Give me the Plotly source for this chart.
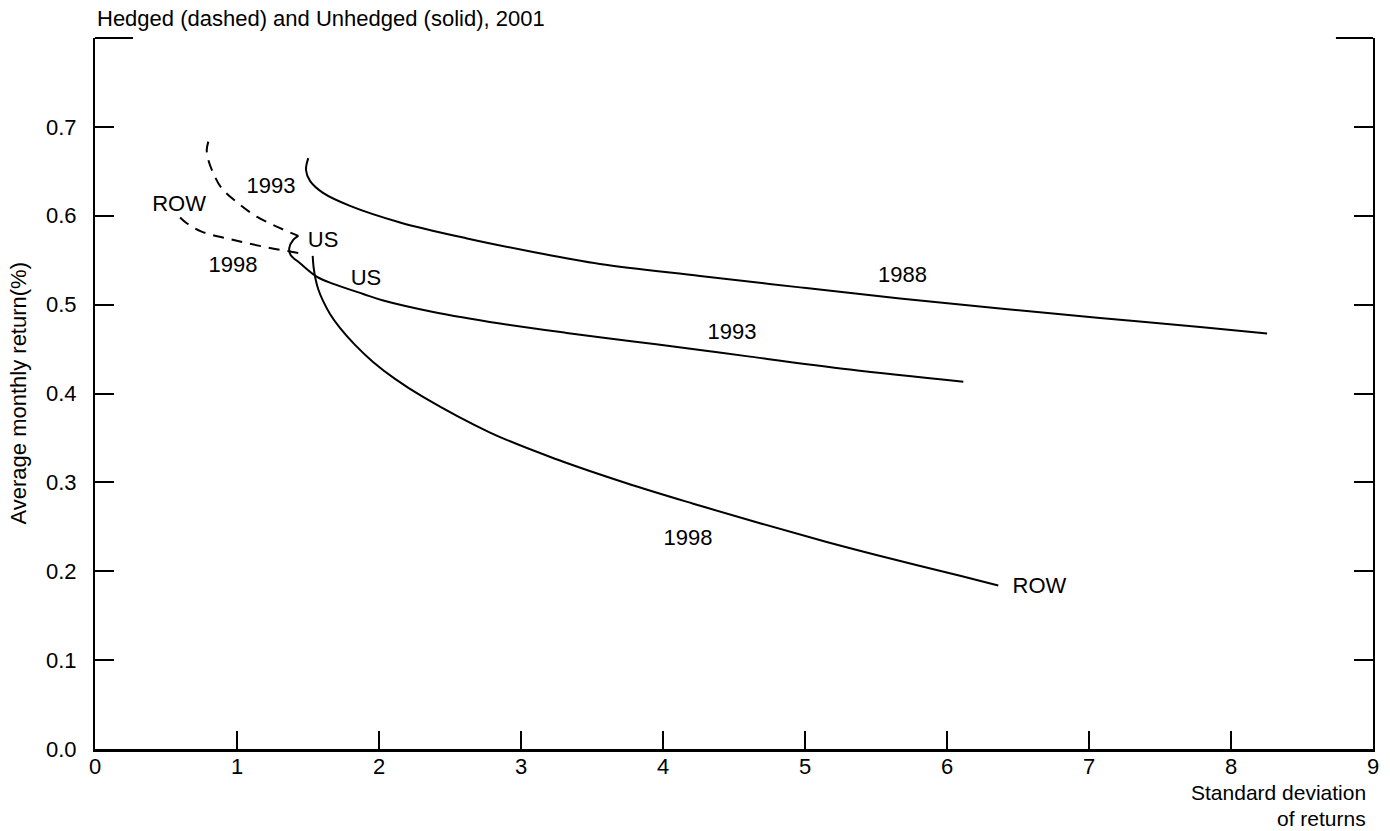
import plotly.graph_objects as go

# ---- data ----
# Unhedged (solid) frontiers
unh_1988_x = [1.502, 1.486, 1.514, 1.606, 1.796, 2.148, 2.620, 3.085, 3.556, 4.261, 4.965, 5.669, 6.373, 7.077, 7.782, 8.254]
unh_1988_y = [0.6648, 0.6515, 0.6392, 0.6257, 0.6111, 0.5925, 0.5745, 0.5593, 0.5458, 0.5323, 0.5194, 0.5070, 0.4957, 0.4850, 0.4749, 0.4676]

unh_1993_x = [1.432, 1.396, 1.368, 1.378, 1.444, 1.561, 1.678, 1.889, 2.030, 2.382, 2.852, 3.322, 3.791, 4.261, 4.613, 5.317, 6.115]
unh_1993_y = [0.5773, 0.5728, 0.5635, 0.5559, 0.5466, 0.5315, 0.5233, 0.5120, 0.5047, 0.4918, 0.4788, 0.4682, 0.4586, 0.4490, 0.4415, 0.4271, 0.4133]

unh_1998_x = [1.533, 1.539, 1.553, 1.574, 1.606, 1.655, 1.725, 1.831, 1.958, 2.113, 2.310, 2.782, 3.250, 3.744, 4.213, 4.683, 5.153, 5.622, 6.092, 6.361]
unh_1998_y = [0.5548, 0.5424, 0.5289, 0.5165, 0.5042, 0.4895, 0.4738, 0.4547, 0.4355, 0.4164, 0.3961, 0.3560, 0.3260, 0.2990, 0.2760, 0.2540, 0.2330, 0.2135, 0.1950, 0.1840]

# Hedged (dashed) frontiers
hed_1993_x = [0.798, 0.787, 0.798, 0.833, 0.892, 1.009, 1.139, 1.279, 1.432]
hed_1993_y = [0.6834, 0.6741, 0.6628, 0.6479, 0.631, 0.614, 0.599, 0.5878, 0.5773]

hed_1998_x = [0.599, 0.646, 0.751, 0.951, 1.185, 1.444]
hed_1998_y = [0.598, 0.5916, 0.5822, 0.5736, 0.5653, 0.5578]

# curve labels
label_text = ["1993", "ROW", "1998", "US", "US", "1988", "1993", "1998", "ROW"]
label_x = [1.239, 0.592, 0.972, 1.606, 1.908, 5.687, 4.486, 4.176, 6.651]
label_y = [0.632, 0.612, 0.5424, 0.571, 0.528, 0.5317, 0.4676, 0.2352, 0.1817]

x_ticks = [0, 1, 2, 3, 4, 5, 6, 7, 8, 9]
y_ticks = [0.0, 0.1, 0.2, 0.3, 0.4, 0.5, 0.6, 0.7]

title_text = "Hedged (dashed) and Unhedged (solid), 2001"
y_title = "Average monthly return(%)"
x_title_lines = ["Standard deviation", "of returns"]

FONT = "Liberation Sans, Arial, Helvetica, sans-serif"
FS = 22

fig = go.Figure()

for xs, ys in [(unh_1988_x, unh_1988_y), (unh_1993_x, unh_1993_y), (unh_1998_x, unh_1998_y)]:
    fig.add_trace(go.Scatter(x=xs, y=ys, mode="lines",
                             line=dict(color="black", width=2, shape="spline", smoothing=1.0),
                             showlegend=False, hoverinfo="skip"))
for xs, ys in [(hed_1993_x, hed_1993_y), (hed_1998_x, hed_1998_y)]:
    fig.add_trace(go.Scatter(x=xs, y=ys, mode="lines",
                             line=dict(color="black", width=2, dash="11px,8px", shape="spline", smoothing=1.0),
                             showlegend=False, hoverinfo="skip"))

fig.add_trace(go.Scatter(x=label_x, y=label_y, mode="text", text=label_text,
                         textfont=dict(family=FONT, size=FS, color="black"),
                         showlegend=False, hoverinfo="skip"))

fig.update_xaxes(range=[0, 9], tickvals=x_ticks, ticktext=[str(v) for v in x_ticks],
                 ticks="inside", ticklen=18, tickwidth=2, tickcolor="black",
                 showline=True, linewidth=3, linecolor="black",
                 showgrid=False, zeroline=False, ticklabelstandoff=-4,
                 tickfont=dict(family=FONT, size=FS, color="black"))
fig.update_yaxes(range=[0, 0.8], tickvals=y_ticks, ticktext=[f"{v:.1f}" for v in y_ticks],
                 ticks="inside", ticklen=19, tickwidth=2, tickcolor="black",
                 showline=True, linewidth=2, linecolor="black", mirror="ticks",
                 showgrid=False, zeroline=False, ticklabelstandoff=12,
                 tickfont=dict(family=FONT, size=FS, color="black"))

# partial top frame segments
fig.add_shape(type="line", xref="paper", yref="paper", x0=0, x1=0.0297, y0=1, y1=1,
              line=dict(color="black", width=2))
fig.add_shape(type="line", xref="paper", yref="paper", x0=0.971, x1=1, y0=1, y1=1,
              line=dict(color="black", width=2))

annotations = [
    dict(text=title_text, xref="paper", yref="paper", x=0, y=1, xanchor="left", yanchor="middle",
         yshift=20, showarrow=False, font=dict(family=FONT, size=FS, color="black")),
    dict(text=y_title, xref="paper", yref="paper", x=0, y=0.5, xanchor="center", yanchor="middle",
         xshift=-77, textangle=-90, showarrow=False, font=dict(family=FONT, size=FS, color="black")),
    dict(text=x_title_lines[0], xref="paper", yref="paper", x=0.9961, y=0,
         xanchor="right", yanchor="middle", yshift=-43, showarrow=False,
         font=dict(family=FONT, size=21, color="black")),
    dict(text=x_title_lines[1], xref="paper", yref="paper", x=0.9961, y=0,
         xanchor="right", yanchor="middle", yshift=-69, showarrow=False,
         font=dict(family=FONT, size=21, color="black")),
]

fig.update_layout(width=1390, height=831, margin=dict(l=95, r=17, t=38, b=82),
                  paper_bgcolor="white", plot_bgcolor="white",
                  annotations=annotations, showlegend=False, hovermode=False)

# remove the default 8px page margin so the figure fills the window exactly; hide the mode bar
fig.write_html("out.html", config={"displayModeBar": False},
               post_script="document.body.style.margin='0';document.body.style.overflow='hidden';")
